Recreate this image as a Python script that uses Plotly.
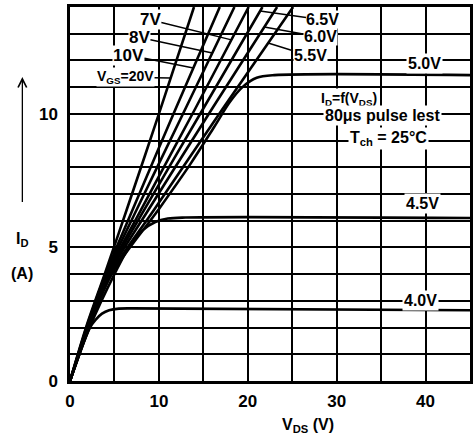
import numpy as np
import plotly.graph_objects as go

# ---------------- data ----------------
vds_20 = [0, 1.8, 3.9, 6.37, 10.0, 13.95]
id_20 = [0, 2, 4, 6.4, 10.0, 14]

vds_10 = [0, 1.85, 4.0, 7.03, 11.9, 16.85]
id_10 = [0, 2, 4, 6.4, 10.2, 14]

vds_8 = [0, 1.9, 4.1, 7.48, 13.0, 18.5]
id_8 = [0, 2, 4, 6.4, 10.2, 14]

vds_7 = [0, 1.95, 4.2, 7.97, 14.1, 20.1]
id_7 = [0, 2, 4, 6.4, 10.2, 14]

vds_65 = [0, 2.0, 4.3, 8.33, 15.0, 21.65]
id_65 = [0, 2, 4, 6.4, 10.2, 14]

vds_60 = [0, 2.05, 4.4, 8.81, 16.0, 23.3]
id_60 = [0, 2, 4, 6.4, 10.2, 14]

vds_55 = [0, 2.1, 4.55, 9.44, 17.2, 25.1]
id_55 = [0, 2, 4, 6.4, 10.2, 14]

vds_50 = [0, 2.15, 4.7, 9.92, 13.5, 16.2, 18.0, 19.4, 21.0, 23, 45]
id_50 = [0, 2, 4, 6.4, 8.1, 9.5, 10.45, 11.0, 11.35, 11.45, 11.45]

vds_45 = [0, 2.2, 5.0, 6.8, 8.2, 9.6, 11.0, 13, 45]
id_45 = [0, 2, 4, 5.1, 5.65, 5.95, 6.08, 6.12, 6.1]

vds_40 = [0, 2.25, 2.9, 3.6, 4.4, 5.5, 7, 45]
id_40 = [0, 2, 2.3, 2.52, 2.65, 2.71, 2.72, 2.65]

x_ticks = [0, 10, 20, 30, 40]
y_ticks = [0, 5, 10]

curves = [
    ("20V", vds_20, id_20), ("10V", vds_10, id_10), ("8V", vds_8, id_8),
    ("7V", vds_7, id_7), ("6.5V", vds_65, id_65), ("6.0V", vds_60, id_60),
    ("5.5V", vds_55, id_55), ("5.0V", vds_50, id_50), ("4.5V", vds_45, id_45),
    ("4.0V", vds_40, id_40),
]

FONT = "Liberation Sans"
fig = go.Figure()
for name, vx, iy in curves:
    fig.add_trace(go.Scatter(
        x=vx, y=iy, mode="lines", name=name, showlegend=False,
        line=dict(color="black", width=2.6, shape="spline", smoothing=0.9),
        hoverinfo="skip"))

def on_curve(vx, iy, level):
    return float(np.interp(level, iy, vx))

def tfont(size):
    return dict(family=FONT, size=size, color="black", weight="bold")

# labels with leader lines to their curves
leaders = [
    ("7V", vds_7, id_7, 12.77, 9.04, 13.52, 17),
    ("8V", vds_8, id_8, 12.28, 7.81, 12.86, 17),
    ("10V", vds_10, id_10, 11.72, 6.58, 12.2, 17),
    ("V<sub>GS</sub>=20V", vds_20, id_20, 11.34, 6.25, 11.38, 14),
    ("6.5V", vds_65, id_65, 13.85, 28.46, 13.52, 16),
    ("6.0V", vds_60, id_60, 13.25, 28.13, 12.88, 16),
    ("5.5V", vds_55, id_55, 12.65, 27.0, 12.17, 16),
]
for txt, vx, iy, lvl, tx, ty, fs in leaders:
    fig.add_annotation(
        x=on_curve(vx, iy, lvl), y=lvl, ax=tx, ay=ty, axref="x", ayref="y",
        xref="x", yref="y", text=txt, showarrow=True, arrowhead=0,
        arrowwidth=1.5, arrowcolor="black", bgcolor="white",
        font=tfont(fs), borderpad=0)

plain = [
    ("5.0V", 39.84, 11.9, 16),
    ("I<sub>D</sub>=f(V<sub>DS</sub>)", 31.36, 10.56, 14),
    ("80μs pulse lest", 35.16, 9.92, 16),
    ("T<sub>ch</sub> = 25°C", 35.83, 9.06, 16),
    ("4.5V", 39.6, 6.66, 16),
    ("4.0V", 39.4, 3.0, 16),
]
for txt, tx, ty, fs in plain:
    fig.add_annotation(x=tx, y=ty, xref="x", yref="y", text=txt,
                       showarrow=False, bgcolor="white", borderpad=1,
                       font=tfont(fs))

# axis titles (placed in paper coordinates outside the plot area)
fig.add_annotation(text="V<sub>DS</sub> (V)", xref="paper", yref="paper",
                   x=(310 - 70) / 403, y=-(425 - 381) / 374, showarrow=False,
                   xanchor="center", yanchor="middle", font=tfont(16))
fig.add_annotation(text="I<sub>D</sub>", xref="paper", yref="paper",
                   x=(22 - 70) / 403, y=(381 - 239) / 374, showarrow=False,
                   xanchor="center", yanchor="middle", font=tfont(16))
fig.add_annotation(text="(A)", xref="paper", yref="paper",
                   x=(22 - 70) / 403, y=(381 - 273) / 374, showarrow=False,
                   xanchor="center", yanchor="middle", font=tfont(16))
fig.add_annotation(text=" ", xref="paper", yref="paper",
                   x=(22 - 70) / 403, y=(381 - 77) / 374, ax=0, ay=135,
                   showarrow=True, arrowhead=5, arrowsize=1.3, arrowwidth=1.3,
                   arrowcolor="black")

fig.update_xaxes(range=[0, 45], tickvals=x_ticks, ticktext=[str(v) for v in x_ticks],
                 showgrid=True, gridcolor="black", gridwidth=1.8,
                 minor=dict(dtick=5, showgrid=True, gridcolor="black", gridwidth=1.8),
                 showline=True, linecolor="black", linewidth=2.5, mirror=True,
                 zeroline=False, ticks="", ticklabelstandoff=3,
                 tickfont=tfont(17))
fig.update_yaxes(range=[0, 14], tickvals=y_ticks, ticktext=[str(v) for v in y_ticks],
                 showgrid=True, gridcolor="black", gridwidth=1.8,
                 minor=dict(dtick=1, showgrid=True, gridcolor="black", gridwidth=1.8),
                 showline=True, linecolor="black", linewidth=2.5, mirror=True,
                 zeroline=False, ticks="", ticklabelstandoff=6,
                 tickfont=tfont(17))
fig.update_layout(width=474, height=442, margin=dict(l=70, r=1, t=7, b=61),
                  plot_bgcolor="white", paper_bgcolor="white")
fig.write_html("out.html", config={"displayModeBar": False},
               post_script="document.body.style.margin='0';"
                           "document.body.style.overflow='hidden';")
